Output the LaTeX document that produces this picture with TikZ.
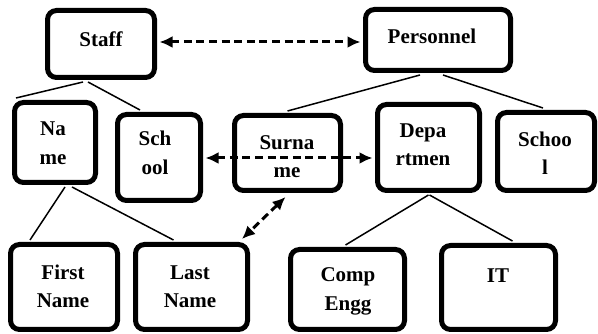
\documentclass[tikz,border=0pt]{standalone}
\usepackage{fontspec}
\setmainfont{Liberation Serif}
\usetikzlibrary{arrows.meta,calc}
\begin{document}
\begin{tikzpicture}[x=1pt,y=-1pt,
 box/.style={draw,fill=white,line width=5pt,rounded corners=9pt,inner sep=0pt},
 lbl/.style={font=\fontsize{21}{28.5}\selectfont\bfseries,align=center,inner sep=0pt},
 link/.style={line width=1.5pt},
 assoc/.style={line width=3pt,dash pattern=on 8pt off 4.6pt,{Latex[length=13pt,width=12pt]}-{Latex[length=13pt,width=12pt]}}]
\useasboundingbox (0,0) rectangle (598,334);
% boxes
\node[box,minimum width=107pt,minimum height=67pt] (staff) at (101,44) {};
\node[box,minimum width=145pt,minimum height=61pt] (personnel) at (438,40) {};
\node[box,minimum width=81pt,minimum height=80pt] (name) at (55,142.5) {};
\node[box,minimum width=83pt,minimum height=86pt] (schoolL) at (159,157.5) {};
\node[box,minimum width=106pt,minimum height=75pt] (surname) at (287.5,153) {};
\node[box,minimum width=102pt,minimum height=86pt] (dept) at (428.5,147.5) {};
\node[box,minimum width=97pt,minimum height=78pt] (schoolR) at (546,151.5) {};
\node[box,minimum width=107pt,minimum height=85pt] (first) at (64,287) {};
\node[box,minimum width=112pt,minimum height=85pt] (last) at (191.5,287) {};
\node[box,minimum width=114pt,minimum height=80pt] (comp) at (347.5,289.5) {};
\node[box,minimum width=114pt,minimum height=84pt] (it) at (498.5,287.5) {};
% tree links
\draw[link] ($(staff.south)+(-18,2)$) -- ($(name.north west)+(4,-2)$);
\draw[link] ($(staff.south)+(-13,2)$) -- ($(schoolL.north)+(-19,-2)$);
\draw[link] ($(personnel.south)+(-18,2)$) -- ($(surname.north)+(0,-2)$);
\draw[link] ($(personnel.south)+(5,2)$) -- ($(schoolR.north)+(-3,-2)$);
\draw[link] ($(name.south)+(10,2)$) -- ($(first.north west)+(22,-2)$);
\draw[link] ($(name.south)+(17,2)$) -- ($(last.north)+(-18,-2)$);
\draw[link] ($(dept.south)+(0,2)$) -- ($(comp.north)+(-2,-2)$);
\draw[link] ($(dept.south)+(1,2)$) -- ($(it.north)+(14,-2)$);
% labels
\node[lbl] (staffT) at (101,39) {Staff};
\node[lbl] (personnelT) at (432,36) {Personnel};
\node[lbl] (nameT) at (53,143) {Na\\me};
\node[lbl] (schoolLT) at (155,153) {Sch\\ool};
\node[lbl] (surnameT) at (287,156.5) {Surna\\me};
\node[lbl] (deptT) at (423,144.5) {Depa\\rtmen};
\node[lbl] (schoolRT) at (545,153) {Schoo\\l};
\node[lbl] (firstT) at (63,286.5) {First\\Name};
\node[lbl] (lastT) at (190,286.5) {Last\\Name};
\node[lbl] (compT) at (348,291.5) {Comp\\Engg};
\node[lbl] (itT) at (498,275.5) {IT};
% associations
\draw[assoc] ($(staff.east)+(2.5,-2)$) -- ($(staff.east -| personnel.west)+(-2.5,-2)$);
\draw[assoc] ($(schoolL.east)+(2.5,0.5)$) -- ($(schoolL.east -| dept.west)+(-2.5,0.5)$);
\draw[assoc] ($(surname.south)+(-2,4)$) -- ($(last.north east)+(-8,-3)$);
\end{tikzpicture}
\end{document}
